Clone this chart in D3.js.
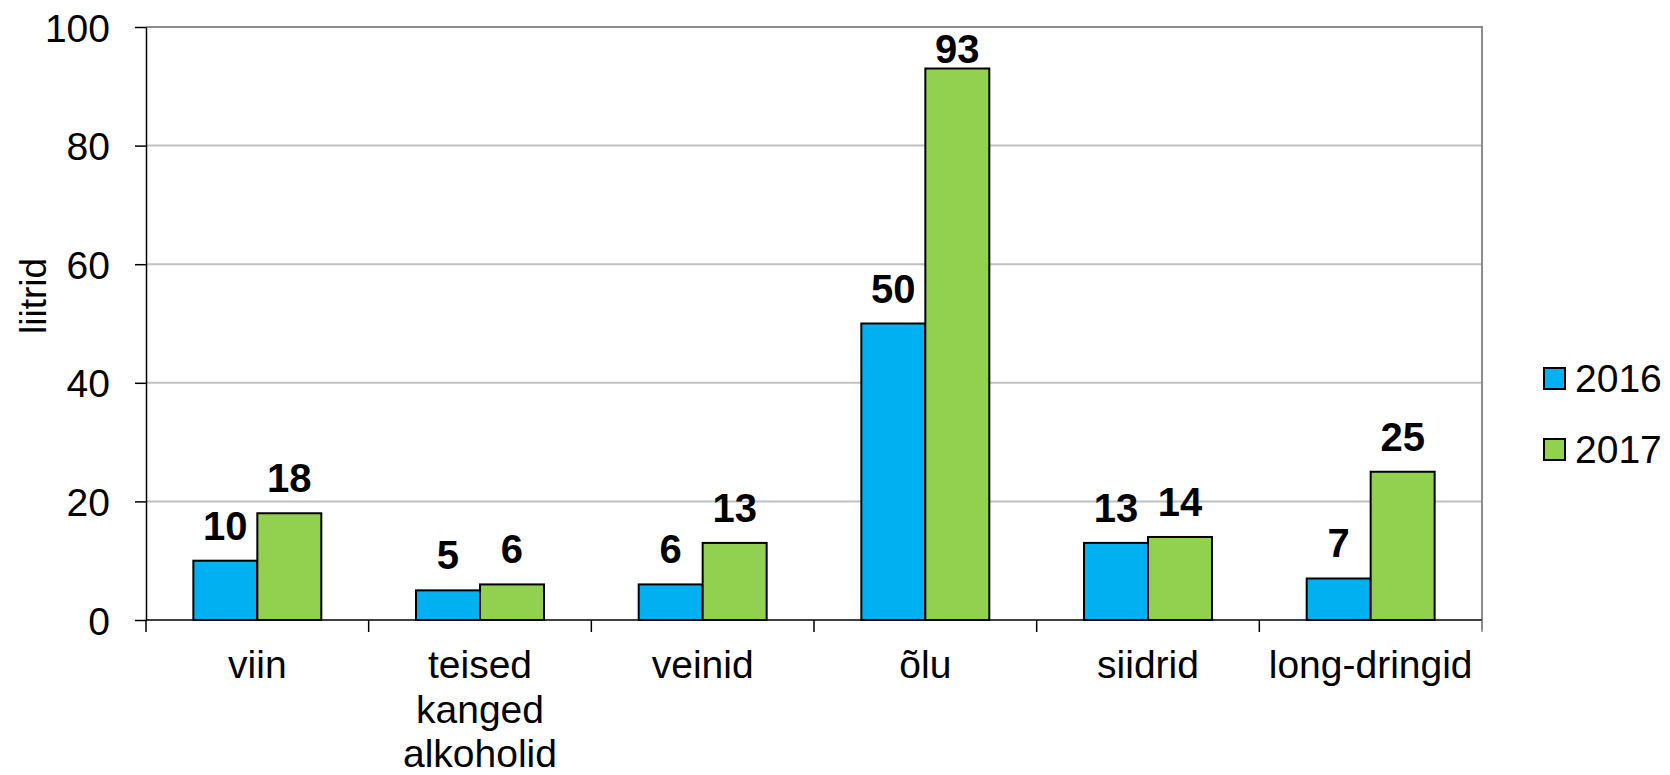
<!DOCTYPE html>
<html>
<head>
<meta charset="utf-8">
<script src="https://cdn.jsdelivr.net/npm/d3@7"></script>
<style>
  body { margin: 0; background: #fff; }
  svg text { font-family: "Liberation Sans", Arial, sans-serif; fill: #000; }
</style>
</head>
<body>
<svg width="1670" height="775"></svg>
<script>
// chart data
var categories = ["viin", "teised kanged alkoholid", "veinid", "õlu", "siidrid", "long-dringid"];
var seriesNames = ["2016", "2017"];
var values2016 = [10, 5, 6, 50, 13, 7];
var values2017 = [18, 6, 13, 93, 14, 25];
var yTicks = [0, 20, 40, 60, 80, 100];
var seriesColors = ["#00b0f0", "#92d050"];

var svg = d3.select("svg"),
    margin = { top: 27, right: 188, bottom: 155, left: 146 },
    width = +svg.attr("width") - margin.left - margin.right,
    height = +svg.attr("height") - margin.top - margin.bottom,
    g = svg.append("g").attr("transform", "translate(" + margin.left + "," + margin.top + ")");

var x = d3.scaleBand()
    .domain(categories)
    .range([0, width]);

var xSub = d3.scaleBand()
    .domain(seriesNames)
    .range([0, x.bandwidth()])
    .paddingOuter(0.74);

var y = d3.scaleLinear()
    .domain([0, 100])
    .range([height, 0]);

// gridlines
g.append("g")
    .selectAll("line")
    .data(yTicks.filter(function (d) { return d > 0 && d < 100; }))
    .enter()
    .append("line")
    .attr("x1", 0)
    .attr("x2", width)
    .attr("y1", function (d) { return y(d); })
    .attr("y2", function (d) { return y(d); })
    .style("stroke", "#c0c0c0")
    .style("stroke-width", 2);

// plot area border top + right
g.append("path")
    .attr("d", "M0," + y(100) + "H" + width + "V" + (height + 10))
    .style("fill", "none")
    .style("stroke", "#8c8c8c")
    .style("stroke-width", 2);

// y axis
var yAxis = g.append("g")
    .call(d3.axisLeft(y).tickValues(yTicks).tickSize(11).tickPadding(25).tickSizeOuter(0));
yAxis.select(".domain").style("stroke", "#000").style("stroke-width", 1.5);
yAxis.selectAll(".tick line").style("stroke", "#000").style("stroke-width", 1.5);
yAxis.selectAll("text")
    .style("font-size", "39px")
    .style("font-family", "'Liberation Sans', Arial, sans-serif")
    .attr("dy", "0.36em");

// x axis line and category ticks
var bounds = d3.range(categories.length + 1).map(function (i) { return i * x.step(); });
g.append("line")
    .attr("x1", 0).attr("x2", width)
    .attr("y1", height).attr("y2", height)
    .style("stroke", "#000").style("stroke-width", 1.5);
g.append("g")
    .selectAll("line")
    .data(bounds)
    .enter()
    .append("line")
    .attr("x1", function (d) { return d; })
    .attr("x2", function (d) { return d; })
    .attr("y1", height)
    .attr("y2", height + 12)
    .style("stroke", function (d, i) { return i === categories.length ? "#8c8c8c" : "#000"; })
    .style("stroke-width", 1.5);

// category labels (wrapped)
var catLines = {
    "teised kanged alkoholid": ["teised", "kanged", "alkoholid"]
};
g.append("g")
    .selectAll("text")
    .data(categories)
    .enter()
    .append("text")
    .attr("text-anchor", "middle")
    .attr("x", function (d) { return x(d) + x.bandwidth() / 2; })
    .attr("y", height + 58)
    .style("font-size", "39px")
    .each(function (d) {
        var lines = catLines[d] || [d];
        var t = d3.select(this);
        lines.forEach(function (l, i) {
            t.append("tspan")
                .attr("x", x(d) + x.bandwidth() / 2)
                .attr("dy", i === 0 ? 0 : 44.5)
                .text(l);
        });
    });

// bars
var rows = categories.map(function (c, i) {
    return { cat: c, vals: [values2016[i], values2017[i]] };
});

var groups = g.append("g")
    .selectAll("g")
    .data(rows)
    .enter()
    .append("g")
    .attr("transform", function (d) { return "translate(" + x(d.cat) + ",0)"; });

groups.selectAll("rect")
    .data(function (d) { return d.vals.map(function (v, j) { return { s: seriesNames[j], v: v, j: j }; }); })
    .enter()
    .append("rect")
    .attr("x", function (d) { return xSub(d.s); })
    .attr("y", function (d) { return y(d.v); })
    .attr("width", xSub.bandwidth())
    .attr("height", function (d) { return y(0) - y(d.v); })
    .style("fill", function (d) { return seriesColors[d.j]; })
    .style("stroke", "#000")
    .style("stroke-width", 2);

// value labels, kept inside the plot area like Excel does
groups.selectAll("text.val")
    .data(function (d) { return d.vals.map(function (v, j) { return { s: seriesNames[j], v: v }; }); })
    .enter()
    .append("text")
    .attr("class", "val")
    .attr("text-anchor", "middle")
    .attr("x", function (d) { return xSub(d.s) + xSub.bandwidth() / 2; })
    .attr("y", function (d) { return Math.max(y(d.v) - 21, 36); })
    .style("font-size", "40px")
    .style("font-weight", "bold")
    .text(function (d) { return d.v; });

// y axis title
svg.append("text")
    .attr("transform", "translate(46,296) rotate(-90)")
    .attr("text-anchor", "middle")
    .style("font-size", "37px")
    .text("liitrid");

// legend
var legend = svg.append("g")
    .selectAll("g")
    .data(seriesNames)
    .enter()
    .append("g")
    .attr("transform", function (d, i) { return "translate(1544," + (368 + i * 71) + ")"; });

legend.append("rect")
    .attr("width", 21)
    .attr("height", 21)
    .style("fill", function (d, i) { return seriesColors[i]; })
    .style("stroke", "#000")
    .style("stroke-width", 2);

legend.append("text")
    .attr("x", 31)
    .attr("y", 24)
    .style("font-size", "39px")
    .text(function (d) { return d; });
</script>
</body>
</html>
